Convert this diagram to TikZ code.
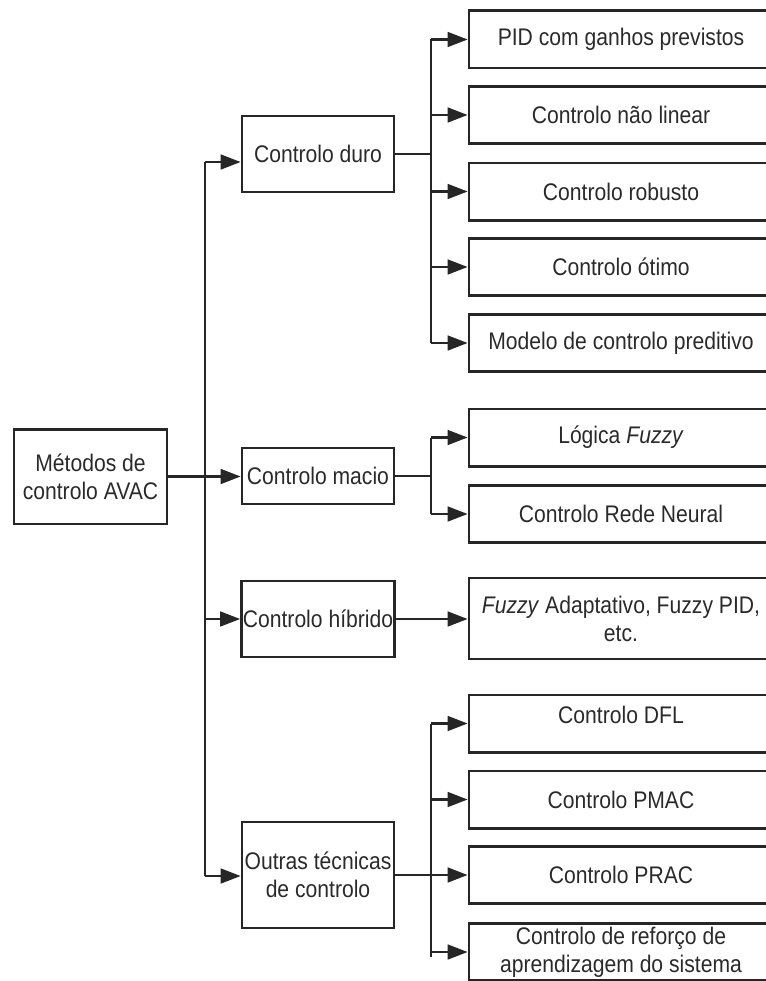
\documentclass[tikz,border=0pt]{standalone}
\usepackage{fontspec}
\setmainfont{Liberation Sans}[FakeStretch=0.88]
\usepackage{xcolor}
\usepackage{tikz}
\usetikzlibrary{arrows.meta,calc}
\definecolor{ink}{HTML}{262626}
\definecolor{txt}{HTML}{2A2A2A}
\tikzset{
  box/.style={draw=ink, line width=2pt, text=txt, font=\fontsize{18}{21}\selectfont, align=center, inner sep=1pt},
  rootbox/.style={box, minimum width=114.75pt, minimum height=71pt},
  midbox/.style={box, minimum width=114pt},
  leafbox/.style={box, minimum width=228pt, minimum height=43pt},
  link/.style={draw=ink, line width=1.9pt},
  arr/.style={link, -{Triangle[length=15pt,width=11pt]}}
}

\begin{document}
\begin{tikzpicture}[x=0.75pt,y=-0.75pt]
  \clip (0,0) rectangle (766,981);

  \node[rootbox] (root) at (90.5,476.5) {Métodos de\\controlo AVAC};

  \node[midbox, minimum height=57pt] (duro) at (318,154) {Controlo duro};
  \node[midbox, minimum height=42pt] (macio) at (318,476) {Controlo macio};
  \node[midbox, minimum height=57pt] (hibrido) at (318,619) {Controlo híbrido};
  \node[midbox, minimum height=79.5pt] (outras) at (318,875) {Outras técnicas\\de controlo};

  \node[leafbox] (pid) at (621,39.5) {PID com ganhos previstos};
  \node[leafbox] (naolin) at (621,115) {Controlo não linear};
  \node[leafbox] (robusto) at (621,191.5) {Controlo robusto};
  \node[leafbox] (otimo) at (621,267) {Controlo ótimo};
  \node[leafbox] (mpc) at (621,343) {Modelo de controlo preditivo};
  \node[leafbox] (fuzzy) at (621,437.5) {Lógica \textit{Fuzzy}};
  \node[leafbox] (rede) at (621,514) {Controlo Rede Neural};
  \node[leafbox, minimum height=60.75pt] (fuzzyad) at (621,618.5) {\textit{Fuzzy} Adaptativo, Fuzzy PID,\\etc.};
  \node[leafbox, text depth=13pt] (dfl) at (621,723.5) {Controlo DFL};
  \node[leafbox] (pmac) at (621,799.5) {Controlo PMAC};
  \node[leafbox] (prac) at (621,875) {Controlo PRAC};
  \node[leafbox] (reforco) at (621,952) {Controlo de reforço de\\aprendizagem do sistema};

  \coordinate (tTop) at (205,162);
  \coordinate (tBot) at (205,876);
  \coordinate (bx) at (431,0);

  \draw[link] (tTop) -- (tBot);
  \draw[arr] (tTop) -- (tTop -| duro.west);
  \draw[arr] (root.east) -- (root.east -| macio.west);
  \draw[arr] (tBot |- hibrido.west) -- (hibrido.west);
  \draw[arr] (tBot) -- (tBot -| outras.west);
  \draw[arr] (hibrido.east) -- (hibrido.east -| fuzzyad.west);

  \draw[link] (duro.east) -- (duro.east -| bx);
  \draw[link] (bx |- pid.west) -- (bx |- mpc.west);
  \foreach \leaf in {pid,naolin,robusto,otimo,mpc}
    \draw[arr] (bx |- \leaf.west) -- (\leaf.west);

  \draw[link] (macio.east) -- (macio.east -| bx);
  \draw[link] (bx |- fuzzy.west) -- (bx |- rede.west);
  \foreach \leaf in {fuzzy,rede}
    \draw[arr] (bx |- \leaf.west) -- (\leaf.west);

  \draw[link] (outras.east) -- (outras.east -| bx);
  \draw[link] (bx |- dfl.west) -- ($(bx |- reforco.west)+(0,5)$);
  \foreach \leaf in {dfl,pmac,prac,reforco}
    \draw[arr] (bx |- \leaf.west) -- (\leaf.west);
\end{tikzpicture}
\end{document}
